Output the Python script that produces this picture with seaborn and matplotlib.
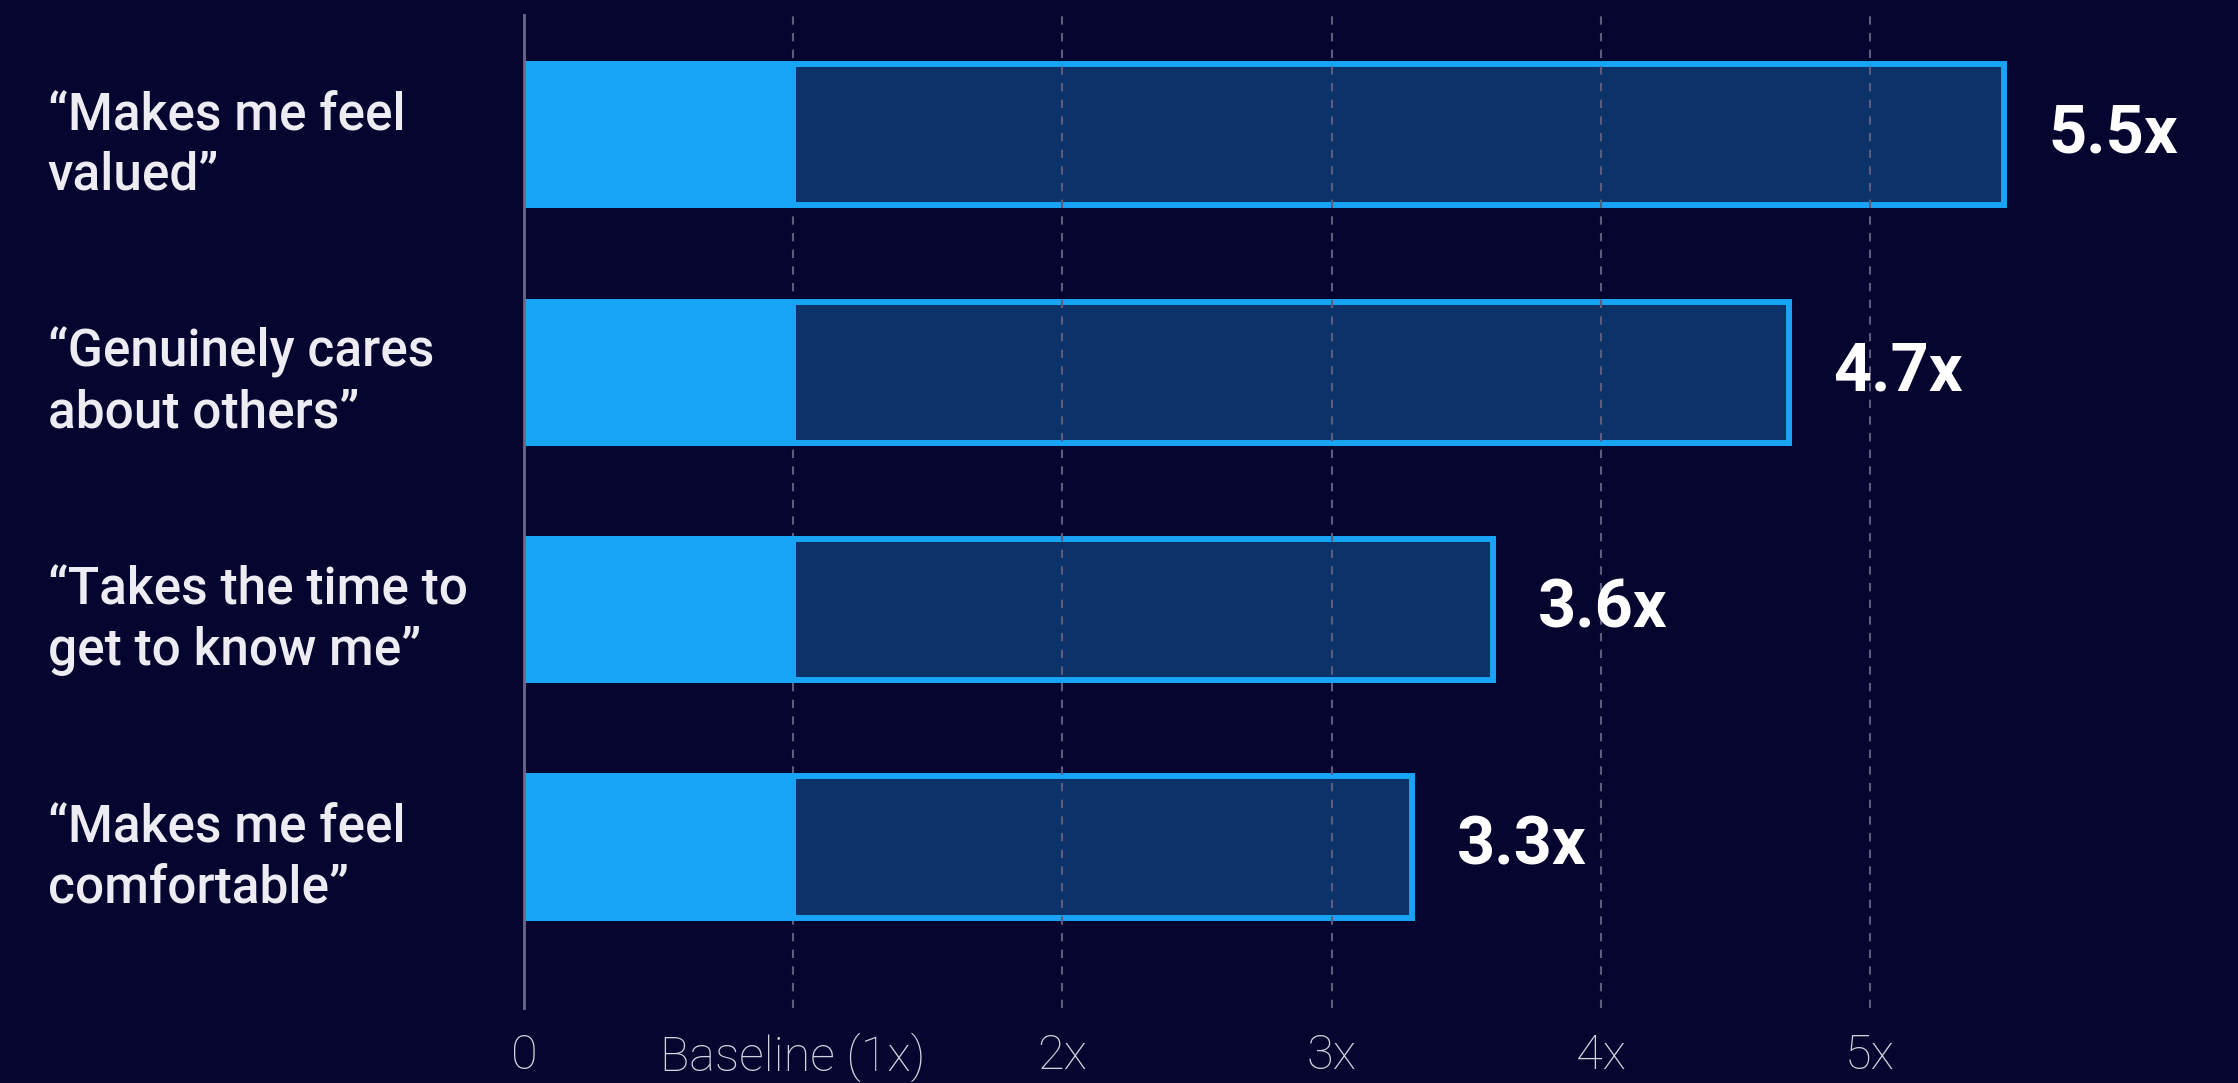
import matplotlib
matplotlib.use("Agg")
import matplotlib.pyplot as plt
import seaborn as sns
import pandas as pd

# ---- data ----
categories = [
    "\u201cMakes me feel\nvalued\u201d",
    "\u201cGenuinely cares\nabout others\u201d",
    "\u201cTakes the time to\nget to know me\u201d",
    "\u201cMakes me feel\ncomfortable\u201d",
]
multipliers = [5.5, 4.7, 3.6, 3.3]
baseline = [1, 1, 1, 1]
value_labels = ["5.5x", "4.7x", "3.6x", "3.3x"]
tick_values = [0, 1, 2, 3, 4, 5]
tick_labels = ["0", "Baseline (1x)", "2x", "3x", "4x", "5x"]

# ---- style ----
BG = "#06052f"
LIGHT = "#18a4f7"
DARK = "#0b3369"
GRID = "#5c5c7c"
SPINE = "#6a6a88"

sns.set_theme(style="dark")
plt.rcParams["font.family"] = ["Roboto", "DejaVu Sans"]

df = pd.DataFrame({"label": categories, "mult": multipliers, "base": baseline})

fig = plt.figure(figsize=(22.38, 10.83), dpi=100, facecolor=BG)
ax = fig.add_axes([0.23414, 0.0693, 0.7433, 0.9169])
ax.set_facecolor(BG)

BAR_W = 0.595
LW = 4.3

sns.barplot(data=df, x="mult", y="label", orient="h", color=DARK, saturation=1,
            width=BAR_W, edgecolor=LIGHT, linewidth=LW, zorder=2, ax=ax)
sns.barplot(data=df, x="base", y="label", orient="h", color=LIGHT, saturation=1,
            width=BAR_W, edgecolor=LIGHT, linewidth=LW, zorder=4, ax=ax)

for i, (v, t) in enumerate(zip(multipliers, value_labels)):
    ax.annotate(t, xy=(v, i), xytext=(32, 0), textcoords="offset points",
                ha="left", va="center", fontsize=48, fontweight="bold",
                color="white", zorder=6)

ax.set_xlim(0, 6.18)
ax.set_ylim(3.678, -0.505)

ax.set_xticks(tick_values)
ax.set_xticklabels(tick_labels, fontsize=35, fontweight="light", color="#d4d4e0")
ax.xaxis.grid(True, color=GRID, linestyle=(0, (4, 4)), linewidth=1.5, zorder=3)
ax.yaxis.grid(False)
ax.set_axisbelow(False)
for line in ax.get_xgridlines():
    line.set_zorder(3)
ax.get_xgridlines()[0].set_visible(False)

ax.tick_params(axis="x", length=0, pad=18)
ax.tick_params(axis="y", length=0, pad=343)
for lab in ax.get_yticklabels():
    lab.set_horizontalalignment("left")
    lab.set_fontsize(37)
    lab.set_fontweight("medium")
    lab.set_color("#ececf2")
    lab.set_linespacing(1.27)

ax.set_xlabel("")
ax.set_ylabel("")
for s in ["top", "right", "bottom"]:
    ax.spines[s].set_visible(False)
ax.spines["left"].set_visible(True)
ax.spines["left"].set_color(SPINE)
ax.spines["left"].set_linewidth(2)
ax.spines["left"].set_zorder(5)

fig.savefig("out.png", dpi=100, facecolor=BG)
